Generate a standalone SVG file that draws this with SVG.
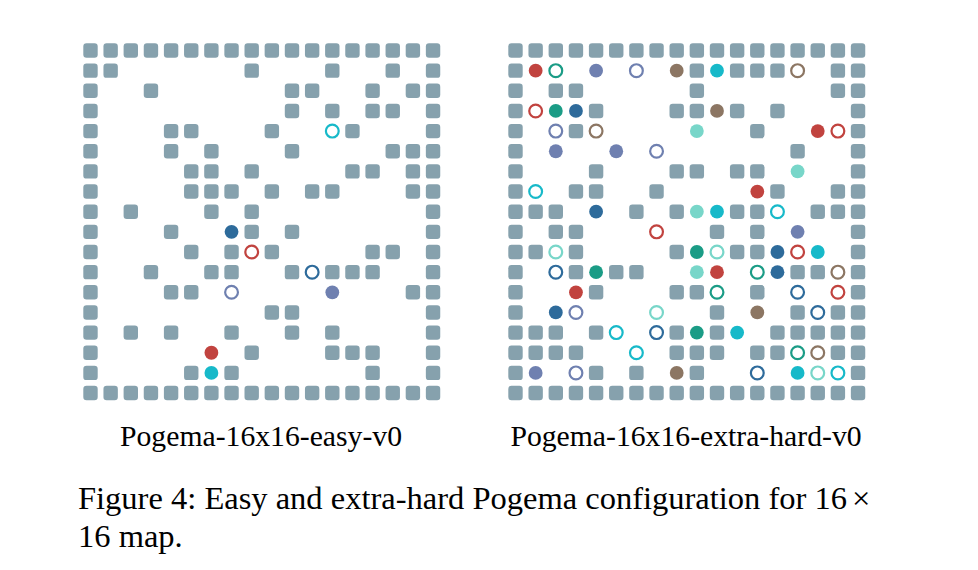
<svg xmlns="http://www.w3.org/2000/svg" xmlns:xlink="http://www.w3.org/1999/xlink" width="978" height="570" viewBox="0 0 978 570">
<style>
.g{fill:#86a1ad}
.rd{fill:#c1433f;stroke:#c1433f}
.cy{fill:#17b9c9;stroke:#17b9c9}
.db{fill:#2e6b9b;stroke:#2e6b9b}
.pu{fill:#6f80b0;stroke:#6f80b0}
.tg{fill:#1b9c86;stroke:#1b9c86}
.lt{fill:#78d6c9;stroke:#78d6c9}
.br{fill:#8c7663;stroke:#8c7663}
text{font-family:"Liberation Serif","Times New Roman",serif;fill:#000}
</style>
<defs>
<rect id="b" x="-7.2" y="-7.2" width="14.4" height="14.4" rx="3.2"/>
<circle id="s" r="6.9" stroke="none"/>
<circle id="h" r="6.4" fill="none" stroke-width="2.2"/>
<g id="full" class="g">
<use href="#b" x="0"/><use href="#b" x="20.15"/><use href="#b" x="40.3"/><use href="#b" x="60.45"/><use href="#b" x="80.6"/><use href="#b" x="100.75"/><use href="#b" x="120.9"/><use href="#b" x="141.05"/><use href="#b" x="161.2"/><use href="#b" x="181.35"/><use href="#b" x="201.5"/><use href="#b" x="221.65"/><use href="#b" x="241.8"/><use href="#b" x="261.95"/><use href="#b" x="282.1"/><use href="#b" x="302.25"/><use href="#b" x="322.4"/><use href="#b" x="342.55"/>
</g>
</defs>
<rect width="978" height="570" fill="#fff"/>

<g id="easy" transform="translate(90.5 50.5)">
<use href="#full" y="0"/>
<g transform="translate(0 20.15)" class="g"><use href="#b" x="0"/><use href="#b" x="20.15"/><use href="#b" x="161.2"/><use href="#b" x="241.8"/><use href="#b" x="302.25"/><use href="#b" x="342.55"/></g>
<g transform="translate(0 40.3)" class="g"><use href="#b" x="0"/><use href="#b" x="60.45"/><use href="#b" x="201.5"/><use href="#b" x="221.65"/><use href="#b" x="282.1"/><use href="#b" x="322.4"/><use href="#b" x="342.55"/></g>
<g transform="translate(0 60.45)" class="g"><use href="#b" x="0"/><use href="#b" x="201.5"/><use href="#b" x="241.8"/><use href="#b" x="282.1"/><use href="#b" x="302.25"/><use href="#b" x="342.55"/></g>
<g transform="translate(0 80.6)"><g class="g"><use href="#b" x="0"/><use href="#b" x="80.6"/><use href="#b" x="100.75"/><use href="#b" x="181.35"/><use href="#b" x="261.95"/><use href="#b" x="342.55"/></g><use href="#h" class="cy" x="241.8"/></g>
<g transform="translate(0 100.75)" class="g"><use href="#b" x="0"/><use href="#b" x="80.6"/><use href="#b" x="120.9"/><use href="#b" x="201.5"/><use href="#b" x="302.25"/><use href="#b" x="322.4"/><use href="#b" x="342.55"/></g>
<g transform="translate(0 120.9)" class="g"><use href="#b" x="0"/><use href="#b" x="100.75"/><use href="#b" x="120.9"/><use href="#b" x="161.2"/><use href="#b" x="261.95"/><use href="#b" x="282.1"/><use href="#b" x="322.4"/><use href="#b" x="342.55"/></g>
<g transform="translate(0 141.05)" class="g"><use href="#b" x="0"/><use href="#b" x="100.75"/><use href="#b" x="120.9"/><use href="#b" x="141.05"/><use href="#b" x="181.35"/><use href="#b" x="221.65"/><use href="#b" x="241.8"/><use href="#b" x="322.4"/><use href="#b" x="342.55"/></g>
<g transform="translate(0 161.2)" class="g"><use href="#b" x="0"/><use href="#b" x="40.3"/><use href="#b" x="120.9"/><use href="#b" x="161.2"/><use href="#b" x="342.55"/></g>
<g transform="translate(0 181.35)"><g class="g"><use href="#b" x="0"/><use href="#b" x="80.6"/><use href="#b" x="161.2"/><use href="#b" x="201.5"/><use href="#b" x="342.55"/></g><use href="#s" class="db" x="141.05"/></g>
<g transform="translate(0 201.5)"><g class="g"><use href="#b" x="0"/><use href="#b" x="100.75"/><use href="#b" x="141.05"/><use href="#b" x="181.35"/><use href="#b" x="282.1"/><use href="#b" x="302.25"/><use href="#b" x="342.55"/></g><use href="#h" class="rd" x="161.2"/></g>
<g transform="translate(0 221.65)"><g class="g"><use href="#b" x="0"/><use href="#b" x="60.45"/><use href="#b" x="120.9"/><use href="#b" x="141.05"/><use href="#b" x="201.5"/><use href="#b" x="241.8"/><use href="#b" x="261.95"/><use href="#b" x="282.1"/><use href="#b" x="342.55"/></g><use href="#h" class="db" x="221.65"/></g>
<g transform="translate(0 241.8)"><g class="g"><use href="#b" x="0"/><use href="#b" x="80.6"/><use href="#b" x="100.75"/><use href="#b" x="322.4"/><use href="#b" x="342.55"/></g><use href="#h" class="pu" x="141.05"/><use href="#s" class="pu" x="241.8"/></g>
<g transform="translate(0 261.95)" class="g"><use href="#b" x="0"/><use href="#b" x="181.35"/><use href="#b" x="201.5"/><use href="#b" x="342.55"/></g>
<g transform="translate(0 282.1)" class="g"><use href="#b" x="0"/><use href="#b" x="40.3"/><use href="#b" x="80.6"/><use href="#b" x="141.05"/><use href="#b" x="201.5"/><use href="#b" x="241.8"/><use href="#b" x="342.55"/></g>
<g transform="translate(0 302.25)"><g class="g"><use href="#b" x="0"/><use href="#b" x="161.2"/><use href="#b" x="241.8"/><use href="#b" x="261.95"/><use href="#b" x="282.1"/><use href="#b" x="342.55"/></g><use href="#s" class="rd" x="120.9"/></g>
<g transform="translate(0 322.4)"><g class="g"><use href="#b" x="0"/><use href="#b" x="100.75"/><use href="#b" x="141.05"/><use href="#b" x="282.1"/><use href="#b" x="342.55"/></g><use href="#s" class="cy" x="120.9"/></g>
<use href="#full" y="342.55"/>
</g>

<g id="extra-hard" transform="translate(515.5 50.5)">
<use href="#full" y="0"/>
<g transform="translate(0 20.15)"><g class="g"><use href="#b" x="0"/><use href="#b" x="181.35"/><use href="#b" x="221.65"/><use href="#b" x="241.8"/><use href="#b" x="261.95"/><use href="#b" x="322.4"/><use href="#b" x="342.55"/></g><use href="#s" class="rd" x="20.15"/><use href="#h" class="tg" x="40.3"/><use href="#s" class="pu" x="80.6"/><use href="#h" class="pu" x="120.9"/><use href="#s" class="br" x="161.2"/><use href="#s" class="cy" x="201.5"/><use href="#h" class="br" x="282.1"/></g>
<g transform="translate(0 40.3)" class="g"><use href="#b" x="0"/><use href="#b" x="40.3"/><use href="#b" x="60.45"/><use href="#b" x="181.35"/><use href="#b" x="322.4"/><use href="#b" x="342.55"/></g>
<g transform="translate(0 60.45)"><g class="g"><use href="#b" x="0"/><use href="#b" x="80.6"/><use href="#b" x="161.2"/><use href="#b" x="181.35"/><use href="#b" x="221.65"/><use href="#b" x="261.95"/><use href="#b" x="342.55"/></g><use href="#h" class="rd" x="20.15"/><use href="#s" class="tg" x="40.3"/><use href="#s" class="db" x="60.45"/><use href="#s" class="br" x="201.5"/></g>
<g transform="translate(0 80.6)"><g class="g"><use href="#b" x="0"/><use href="#b" x="60.45"/><use href="#b" x="241.8"/><use href="#b" x="342.55"/></g><use href="#h" class="pu" x="40.3"/><use href="#h" class="br" x="80.6"/><use href="#s" class="lt" x="181.35"/><use href="#s" class="rd" x="302.25"/><use href="#h" class="rd" x="322.4"/></g>
<g transform="translate(0 100.75)"><g class="g"><use href="#b" x="0"/><use href="#b" x="282.1"/><use href="#b" x="342.55"/></g><use href="#s" class="pu" x="40.3"/><use href="#s" class="pu" x="100.75"/><use href="#h" class="pu" x="141.05"/></g>
<g transform="translate(0 120.9)"><g class="g"><use href="#b" x="0"/><use href="#b" x="80.6"/><use href="#b" x="161.2"/><use href="#b" x="181.35"/><use href="#b" x="221.65"/><use href="#b" x="241.8"/><use href="#b" x="342.55"/></g><use href="#s" class="lt" x="282.1"/></g>
<g transform="translate(0 141.05)"><g class="g"><use href="#b" x="0"/><use href="#b" x="60.45"/><use href="#b" x="80.6"/><use href="#b" x="141.05"/><use href="#b" x="261.95"/><use href="#b" x="322.4"/><use href="#b" x="342.55"/></g><use href="#h" class="cy" x="20.15"/><use href="#s" class="rd" x="241.8"/></g>
<g transform="translate(0 161.2)"><g class="g"><use href="#b" x="0"/><use href="#b" x="20.15"/><use href="#b" x="40.3"/><use href="#b" x="120.9"/><use href="#b" x="161.2"/><use href="#b" x="221.65"/><use href="#b" x="241.8"/><use href="#b" x="302.25"/><use href="#b" x="322.4"/><use href="#b" x="342.55"/></g><use href="#s" class="db" x="80.6"/><use href="#s" class="lt" x="181.35"/><use href="#s" class="cy" x="201.5"/><use href="#h" class="cy" x="261.95"/></g>
<g transform="translate(0 181.35)"><g class="g"><use href="#b" x="0"/><use href="#b" x="40.3"/><use href="#b" x="60.45"/><use href="#b" x="201.5"/><use href="#b" x="241.8"/><use href="#b" x="342.55"/></g><use href="#h" class="rd" x="141.05"/><use href="#s" class="pu" x="282.1"/></g>
<g transform="translate(0 201.5)"><g class="g"><use href="#b" x="0"/><use href="#b" x="20.15"/><use href="#b" x="60.45"/><use href="#b" x="161.2"/><use href="#b" x="221.65"/><use href="#b" x="241.8"/><use href="#b" x="342.55"/></g><use href="#h" class="lt" x="40.3"/><use href="#s" class="tg" x="181.35"/><use href="#h" class="lt" x="201.5"/><use href="#s" class="db" x="261.95"/><use href="#h" class="rd" x="282.1"/><use href="#s" class="cy" x="302.25"/></g>
<g transform="translate(0 221.65)"><g class="g"><use href="#b" x="0"/><use href="#b" x="60.45"/><use href="#b" x="100.75"/><use href="#b" x="120.9"/><use href="#b" x="282.1"/><use href="#b" x="302.25"/><use href="#b" x="342.55"/></g><use href="#h" class="db" x="40.3"/><use href="#s" class="tg" x="80.6"/><use href="#s" class="lt" x="181.35"/><use href="#s" class="rd" x="201.5"/><use href="#h" class="tg" x="241.8"/><use href="#s" class="db" x="261.95"/><use href="#h" class="br" x="322.4"/></g>
<g transform="translate(0 241.8)"><g class="g"><use href="#b" x="0"/><use href="#b" x="80.6"/><use href="#b" x="161.2"/><use href="#b" x="181.35"/><use href="#b" x="241.8"/><use href="#b" x="342.55"/></g><use href="#s" class="rd" x="60.45"/><use href="#h" class="tg" x="201.5"/><use href="#h" class="db" x="282.1"/><use href="#h" class="rd" x="322.4"/></g>
<g transform="translate(0 261.95)"><g class="g"><use href="#b" x="0"/><use href="#b" x="201.5"/><use href="#b" x="282.1"/><use href="#b" x="322.4"/><use href="#b" x="342.55"/></g><use href="#s" class="db" x="40.3"/><use href="#h" class="pu" x="60.45"/><use href="#h" class="lt" x="141.05"/><use href="#s" class="br" x="241.8"/><use href="#h" class="db" x="302.25"/></g>
<g transform="translate(0 282.1)"><g class="g"><use href="#b" x="0"/><use href="#b" x="20.15"/><use href="#b" x="40.3"/><use href="#b" x="80.6"/><use href="#b" x="161.2"/><use href="#b" x="201.5"/><use href="#b" x="261.95"/><use href="#b" x="282.1"/><use href="#b" x="302.25"/><use href="#b" x="322.4"/><use href="#b" x="342.55"/></g><use href="#h" class="cy" x="100.75"/><use href="#h" class="db" x="141.05"/><use href="#s" class="tg" x="181.35"/><use href="#s" class="cy" x="221.65"/></g>
<g transform="translate(0 302.25)"><g class="g"><use href="#b" x="0"/><use href="#b" x="20.15"/><use href="#b" x="40.3"/><use href="#b" x="60.45"/><use href="#b" x="161.2"/><use href="#b" x="181.35"/><use href="#b" x="201.5"/><use href="#b" x="241.8"/><use href="#b" x="261.95"/><use href="#b" x="322.4"/><use href="#b" x="342.55"/></g><use href="#h" class="cy" x="120.9"/><use href="#h" class="tg" x="282.1"/><use href="#h" class="br" x="302.25"/></g>
<g transform="translate(0 322.4)"><g class="g"><use href="#b" x="0"/><use href="#b" x="80.6"/><use href="#b" x="120.9"/><use href="#b" x="181.35"/><use href="#b" x="342.55"/></g><use href="#s" class="pu" x="20.15"/><use href="#h" class="pu" x="60.45"/><use href="#s" class="br" x="161.2"/><use href="#h" class="db" x="241.8"/><use href="#s" class="cy" x="282.1"/><use href="#h" class="lt" x="302.25"/><use href="#h" class="cy" x="322.4"/></g>
<use href="#full" y="342.55"/>
</g>

<g id="labels">
<text x="261" y="446" font-size="29.7" text-anchor="middle">Pogema-16x16-easy-v0</text>
<text x="686" y="446" font-size="29.7" text-anchor="middle">Pogema-16x16-extra-hard-v0</text>
<text x="78" y="509" font-size="32.5">Figure 4: Easy and extra-hard Pogema configuration for 16<tspan dx="5">×</tspan></text>
<text x="78" y="547" font-size="32.5">16 map.</text>
</g>
</svg>
